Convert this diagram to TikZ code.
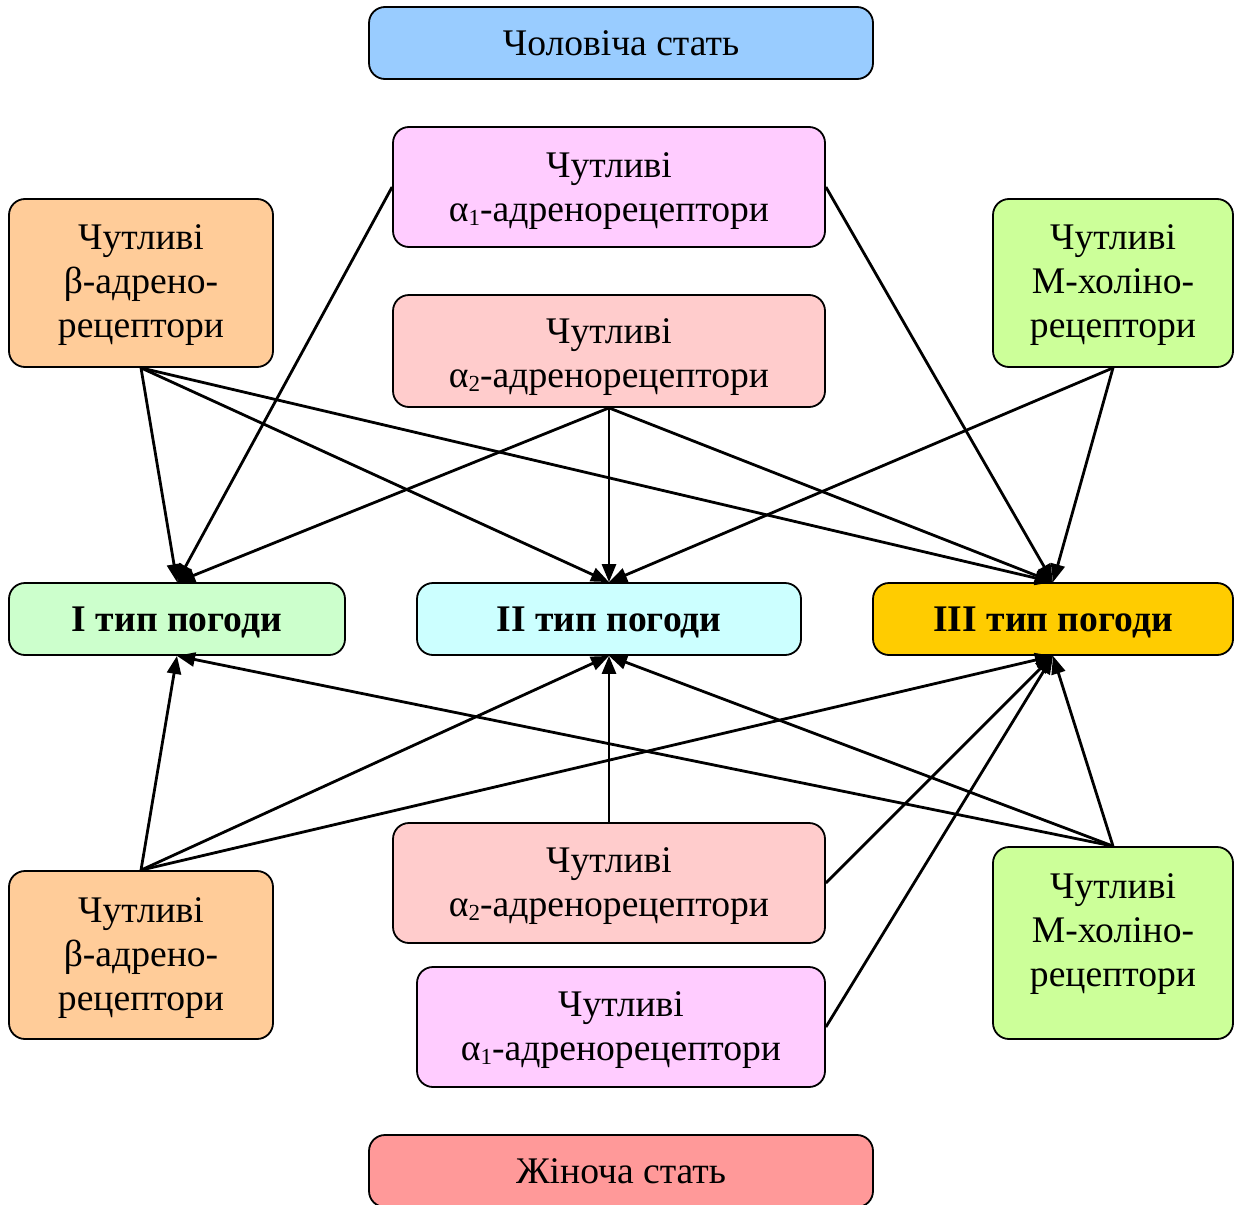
\documentclass[tikz,border=0pt]{standalone}
\usepackage{fontspec}
\setmainfont{Liberation Serif}
\usetikzlibrary{arrows.meta}

\definecolor{cMale}{HTML}{99CCFF}
\definecolor{cFemale}{HTML}{FF9999}
\definecolor{cAlphaOne}{HTML}{FFCCFF}
\definecolor{cAlphaTwo}{HTML}{FFCCCC}
\definecolor{cBeta}{HTML}{FFCC99}
\definecolor{cMchol}{HTML}{CCFF99}
\definecolor{cTypeOne}{HTML}{CCFFCC}
\definecolor{cTypeTwo}{HTML}{CCFFFF}
\definecolor{cTypeThree}{HTML}{FFCC00}

% small lowered index after alpha
\newcommand{\idx}[1]{\raisebox{-0.25ex}{\fontsize{11.5}{11.5}\selectfont #1}}

\tikzset{
  box/.style={draw, line width=0.9pt, rounded corners=8pt, inner sep=0pt},
  txt/.style={align=center, inner sep=0pt, font=\fontsize{18.8}{22}\selectfont},
  btxt/.style={txt, font=\fontsize{18.8}{22}\selectfont\bfseries},
  arr/.style={-{Triangle[length=9pt,width=7pt]}, line width=1.4pt},
}

\begin{document}
\begin{tikzpicture}[x=0.5pt,y=-0.5pt]
\useasboundingbox (0,0) rectangle (1235,1204);

% sex boxes
\node[box, fill=cMale, minimum width=252pt, minimum height=36pt,
  label={[txt]center:Чоловіча стать}] (male) at (621,43) {};
\node[box, fill=cFemale, minimum width=252pt, minimum height=36pt,
  label={[txt]center:Жіноча стать}] (female) at (621,1171) {};

% receptor groups, upper half
\node[box, fill=cAlphaOne, minimum width=216pt, minimum height=60pt,
  label={[txt,yshift=-2pt]center:{Чутливі\\α\idx{1}-адренорецептори}}] (a1T) at (609,187) {};
\node[box, fill=cAlphaTwo, minimum width=216pt, minimum height=56pt,
  label={[txt,yshift=-3pt]center:{Чутливі\\α\idx{2}-адренорецептори}}] (a2T) at (609,351) {};
\node[box, fill=cBeta, minimum width=132pt, minimum height=84pt,
  label={[txt,yshift=-1pt]center:{Чутливі\\β-адрено-\\рецептори}}] (bT) at (141,283) {};
\node[box, fill=cMchol, minimum width=120pt, minimum height=84pt,
  label={[txt,yshift=-1pt]center:{Чутливі\\М-холіно-\\рецептори}}] (mT) at (1113,283) {};

% weather types
\node[box, fill=cTypeOne, minimum width=168pt, minimum height=36pt,
  label={[btxt,yshift=-1.5pt]center:I тип погоди}] (t1) at (177,619) {};
\node[box, fill=cTypeTwo, minimum width=192pt, minimum height=36pt,
  label={[btxt,yshift=-1.5pt]center:II тип погоди}] (t2) at (609,619) {};
\node[box, fill=cTypeThree, minimum width=180pt, minimum height=36pt,
  label={[btxt,yshift=-1.5pt]center:III тип погоди}] (t3) at (1053,619) {};

% receptor groups, lower half
\node[box, fill=cBeta, minimum width=132pt, minimum height=84pt,
  label={[txt,yshift=-1.5pt]center:{Чутливі\\β-адрено-\\рецептори}}] (bB) at (141,955) {};
\node[box, fill=cAlphaTwo, minimum width=216pt, minimum height=60pt,
  label={[txt,yshift=-1.5pt]center:{Чутливі\\α\idx{2}-адренорецептори}}] (a2B) at (609,883) {};
\node[box, fill=cMchol, minimum width=120pt, minimum height=96pt,
  label={[txt,yshift=4.5pt]center:{Чутливі\\М-холіно-\\рецептори}}] (mB) at (1113,943) {};
\node[box, fill=cAlphaOne, minimum width=204pt, minimum height=60pt,
  label={[txt,yshift=-1.5pt]center:{Чутливі\\α\idx{1}-адренорецептори}}] (a1B) at (621,1027) {};

% connectors from the upper groups
\draw[arr] (bT.south) -- (t1.north);
\draw[arr] (bT.south) -- (t2.north);
\draw[arr] (bT.south) -- (t3.north);
\draw[arr] (a1T.west) -- (t1.north);
\draw[arr] (a1T.east) -- (t3.north);
\draw[arr] (a2T.south) -- (t1.north);
\draw[arr] (a2T.south) -- (t2.north);
\draw[arr] (a2T.south) -- (t3.north);
\draw[arr] (mT.south) -- (t2.north);
\draw[arr] (mT.south) -- (t3.north);

% connectors from the lower groups
\draw[arr] (bB.north) -- (t1.south);
\draw[arr] (bB.north) -- (t2.south);
\draw[arr] (bB.north) -- (t3.south);
\draw[arr] (a2B.north) -- (t2.south);
\draw[arr] (a2B.east) -- (t3.south);
\draw[arr] (a1B.east) -- (t3.south);
\draw[arr] (mB.north) -- (t1.south);
\draw[arr] (mB.north) -- (t2.south);
\draw[arr] (mB.north) -- (t3.south);
\end{tikzpicture}
\end{document}
